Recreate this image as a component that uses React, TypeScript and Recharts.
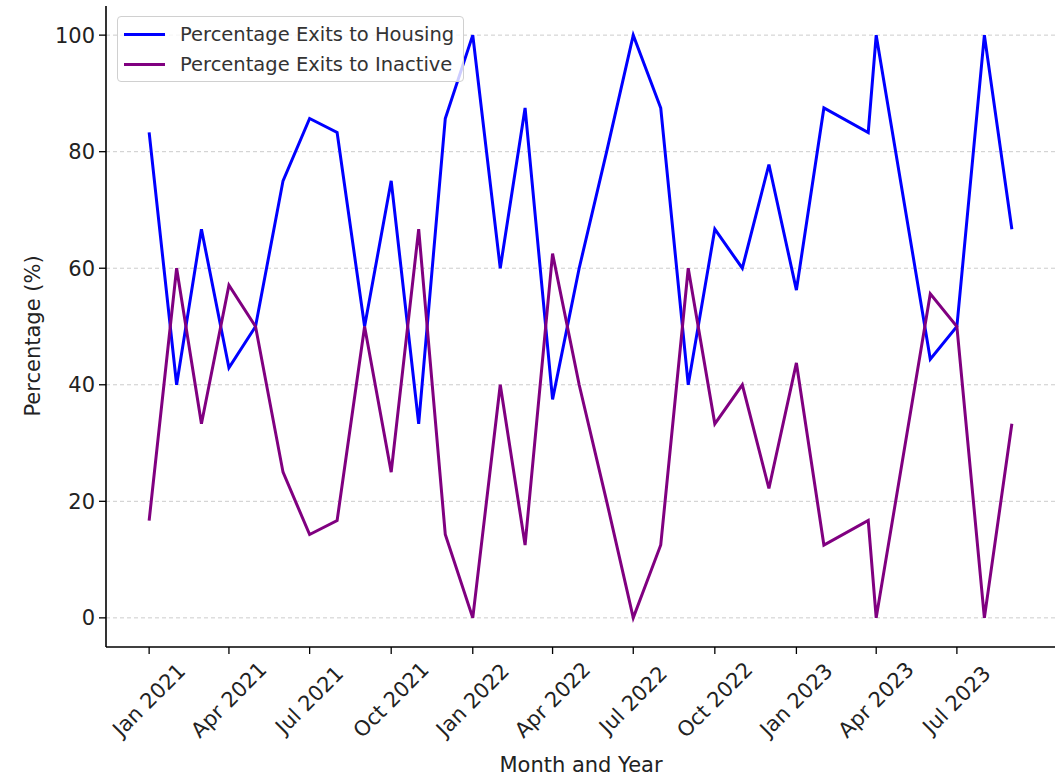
import React from 'react';
import { LineChart, Line, XAxis, YAxis, CartesianGrid, Legend, Label } from 'recharts';

const dates = [
  '2021-01-01', '2021-02-01', '2021-03-01', '2021-04-01', '2021-05-01', '2021-06-01',
  '2021-07-01', '2021-08-01', '2021-09-01', '2021-10-01', '2021-11-01', '2021-12-01',
  '2022-01-01', '2022-02-01', '2022-03-01', '2022-04-01', '2022-05-01', '2022-06-01',
  '2022-07-01', '2022-08-01', '2022-09-01', '2022-10-01', '2022-11-01', '2022-12-01',
  '2023-01-01', '2023-02-01', '2023-03-23', '2023-04-01', '2023-06-01', '2023-07-01',
  '2023-08-01', '2023-09-01',
];

const housing = [
  83.3, 40, 66.7, 42.9, 50, 75, 85.7, 83.3, 50, 75, 33.3, 85.7,
  100, 60, 87.5, 37.5, 60, 80, 100, 87.5, 40, 66.7, 60, 77.8,
  56.25, 87.5, 83.3, 100, 44.4, 50, 100, 66.7,
];

const inactive = [
  16.7, 60, 33.3, 57.1, 50, 25, 14.3, 16.7, 50, 25, 66.7, 14.3,
  0, 40, 12.5, 62.5, 40, 20, 0, 12.5, 60, 33.3, 40, 22.2,
  43.75, 12.5, 16.7, 0, 55.6, 50, 0, 33.3,
];

const tickDates = [
  '2021-01-01', '2021-04-01', '2021-07-01', '2021-10-01', '2022-01-01', '2022-04-01',
  '2022-07-01', '2022-10-01', '2023-01-01', '2023-04-01', '2023-07-01',
];
const tickLabels = [
  'Jan 2021', 'Apr 2021', 'Jul 2021', 'Oct 2021', 'Jan 2022', 'Apr 2022',
  'Jul 2022', 'Oct 2022', 'Jan 2023', 'Apr 2023', 'Jul 2023',
];

const yTicks = [0, 20, 40, 60, 80, 100];

const ts = (d: string) => Date.parse(d + 'T00:00:00Z');

const rows = dates.map((d, i) => ({
  t: ts(d),
  housing: housing[i],
  inactive: inactive[i],
}));

// matplotlib-style 5% padding around the date range
const first = ts(dates[0]);
const last = ts(dates[dates.length - 1]);
const pad = (last - first) * 0.05;
const xDomain = [first - pad, last + pad];
const xTicks = tickDates.map(ts);

const FONT = '"DejaVu Sans", sans-serif';

const RotTick = (props: any) => {
  const { x, y, payload } = props;
  const idx = xTicks.indexOf(payload.value);
  const label = idx >= 0 ? tickLabels[idx] : '';
  return (
    <g transform={`translate(${x},${y + 41})`}>
      <text
        transform="rotate(-45)"
        textAnchor="middle"
        dominantBaseline="central"
        fontSize={21}
        fontFamily={FONT}
        fill="#222"
      >
        {label}
      </text>
    </g>
  );
};

const items = [
  { name: 'Percentage Exits to Housing', color: '#0000ff' },
  { name: 'Percentage Exits to Inactive', color: '#800080' },
];

const LegendBox = () => (
  <div
    style={{
      width: 347,
      height: 66,
      boxSizing: 'border-box',
      border: '1px solid #d0d0d0',
      borderRadius: 4,
      background: 'rgba(255,255,255,0.8)',
      fontFamily: FONT,
      fontSize: 19.5,
      color: '#333',
      paddingTop: 3,
    }}
  >
    {items.map((it) => (
      <div key={it.name} style={{ display: 'flex', alignItems: 'center', height: 29.5 }}>
        <span
          style={{
            display: 'inline-block',
            width: 41,
            height: 3,
            background: it.color,
            marginLeft: 6,
            marginRight: 15,
          }}
        />
        <span>{it.name}</span>
      </div>
    ))}
  </div>
);

export default function App() {
  return (
    <div style={{ position: 'absolute', left: 0, top: 0, width: 1057, height: 778, background: '#fff' }}>
      <LineChart
        width={1057}
        height={778}
        data={rows}
        margin={{ top: 6, right: 2, left: 26, bottom: 11 }}
      >
        <CartesianGrid
          vertical={false}
          horizontalValues={yTicks}
          stroke="#cccccc"
          strokeDasharray="4 3"
        />
        <XAxis
          dataKey="t"
          type="number"
          scale="time"
          domain={xDomain}
          ticks={xTicks}
          tick={<RotTick />}
          tickSize={7}
          tickMargin={5}
          height={120}
          interval={0}
          axisLine={{ stroke: '#000', strokeWidth: 1.6 }}
          tickLine={{ stroke: '#000', strokeWidth: 1.3 }}
        >
          <Label
            content={() => (
              <text x={581} y={772} textAnchor="middle" fontSize={21} fontFamily={FONT} fill="#222">
                Month and Year
              </text>
            )}
          />
        </XAxis>
        <YAxis
          type="number"
          domain={[-5, 105]}
          ticks={yTicks}
          width={80}
          tickSize={7}
          tickMargin={4}
          axisLine={{ stroke: '#000', strokeWidth: 1.6 }}
          tickLine={{ stroke: '#000', strokeWidth: 1.3 }}
          tick={{ fontSize: 21, fontFamily: FONT, fill: '#222' }}
        >
          <Label
            content={() => (
              <text
                x={33}
                y={336}
                transform="rotate(-90 33 336)"
                textAnchor="middle"
                dominantBaseline="central"
                fontSize={21}
                fontFamily={FONT}
                fill="#222"
              >
                Percentage (%)
              </text>
            )}
          />
        </YAxis>
        <Legend
          layout="vertical"
          align="center"
          verticalAlign="middle"
          content={<LegendBox />}
          wrapperStyle={{ left: 117, top: 16, width: 347 }}
        />
        <Line
          type="linear"
          dataKey="housing"
          name="Percentage Exits to Housing"
          stroke="#0000ff"
          strokeWidth={3}
          dot={false}
          isAnimationActive={false}
        />
        <Line
          type="linear"
          dataKey="inactive"
          name="Percentage Exits to Inactive"
          stroke="#800080"
          strokeWidth={3}
          dot={false}
          isAnimationActive={false}
        />
      </LineChart>
    </div>
  );
}
